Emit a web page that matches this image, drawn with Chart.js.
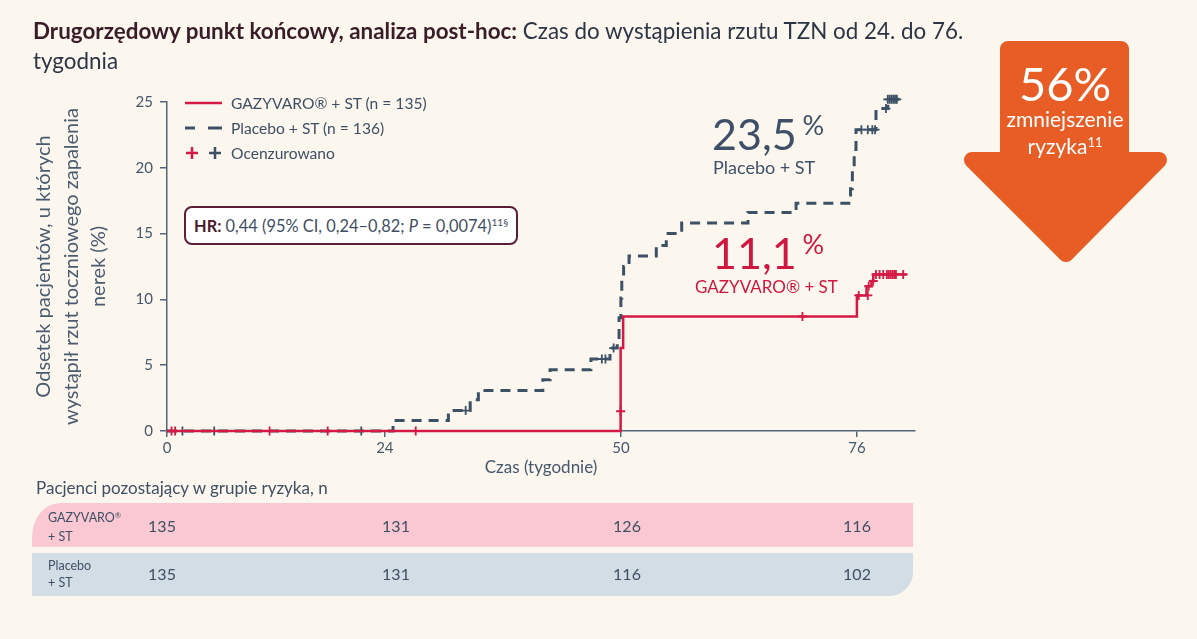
<!DOCTYPE html>
<html lang="pl">
<head>
<meta charset="utf-8">
<title>Czas do wystąpienia rzutu TZN</title>
<script src="https://cdn.jsdelivr.net/npm/chart.js@4.4.1/dist/chart.umd.min.js"></script>
<style>
  html, body { margin: 0; padding: 0; }
  body {
    width: 1197px; height: 639px; overflow: hidden; position: relative;
    background: #fbf7ef; font-family: Lato, "Open Sans", sans-serif; color: #3f4f63;
  }
  canvas { position: absolute; left: 0; top: 0; }
  .abs { position: absolute; white-space: nowrap; }
  sup { font-size: 62%; vertical-align: 0; position: relative; top: -0.55em; }
  #title { left: 33px; top: 16px; font-size: 22.4px; line-height: 30px; color: #2c3545; }
  #title b { color: #3a1c28; }
  .leg { left: 185px; height: 24px; line-height: 24px; font-size: 15.6px; color: #3f4f63; }
  .leg svg { position: absolute; left: 0; top: 0; }
  .leg span { position: absolute; left: 46px; top: 0; }
  #hr {
    left: 184px; top: 206px; height: 35px; line-height: 35px;
    border: 2px solid #5b1f38; border-radius: 8px; background: #fff;
    font-size: 16.4px; padding-left: 8px; box-sizing: content-box; width: 322px; color: #3f4f63;
  }
  #hr b { color: #4a1a2e; }
  .big { font-size: 43px; line-height: 46px; }
  .big sup { font-size: 27px; top: -0.55em; margin-left: 6px; }
  .sub { font-size: 18px; line-height: 22px; }
  .pla { color: #3e5068; }
  .gaz { color: #d0173f; }
  .arrowTxt { left: 964px; width: 202px; text-align: center; color: #fff; }
  .row { position: absolute; left: 32px; width: 881px; }
  #rowG { top: 503px; height: 44px; background: #f9c8d2; border-top-left-radius: 28px 34px; }
  #rowP { top: 553px; height: 43px; background: #d2dde6; border-bottom-right-radius: 24px; }
  .rlab { left: 48px; font-size: 12.5px; line-height: 17px; color: #3f4f63; }
  .num { font-size: 16px; line-height: 20px; width: 60px; text-align: center; color: #3f4f63; }
</style>
</head>
<body>
<canvas id="km" width="1197" height="639"></canvas>

<div id="title" class="abs"><b>Drugorzędowy punkt końcowy, analiza post-hoc:</b> Czas do wystąpienia rzutu TZN od 24. do 76.<br>tygodnia</div>

<div class="abs leg" style="top:91px">
  <svg width="40" height="24"><line x1="0" y1="12" x2="37" y2="12" stroke="#d41a44" stroke-width="2.5"/></svg>
  <span>GAZYVARO® + ST (n = 135)</span>
</div>
<div class="abs leg" style="top:116px">
  <svg width="40" height="24"><line x1="0" y1="12" x2="10" y2="12" stroke="#3c5166" stroke-width="3"/><line x1="23" y1="12" x2="37" y2="12" stroke="#3c5166" stroke-width="3"/></svg>
  <span>Placebo + ST (n = 136)</span>
</div>
<div class="abs leg" style="top:141px">
  <svg width="40" height="24"><path d="M1 12h12M7 6v12" stroke="#d41a44" stroke-width="2.5"/><path d="M24 12h12M30 6v12" stroke="#3c5166" stroke-width="2.5"/></svg>
  <span>Ocenzurowano</span>
</div>

<div id="hr" class="abs"><b>HR:</b> 0,44 (95% CI, 0,24–0,82; <i>P</i> = 0,0074)<sup>11§</sup></div>

<div class="abs big pla" style="left:712px;top:111px">23,5<sup>%</sup></div>
<div class="abs sub pla" style="left:713px;top:156px">Placebo + ST</div>
<div class="abs big gaz" style="left:712px;top:230px">11,1<sup>%</sup></div>
<div class="abs sub gaz" style="left:695px;top:276px;font-size:17px">GAZYVARO® + ST</div>

<svg class="abs" style="left:0;top:0" width="1197" height="639">
  <polygon points="1008,49 1121,49 1121,160 1159,160 1066,254 972,160 1008,160"
           fill="#e85c25" stroke="#e85c25" stroke-width="16" stroke-linejoin="round"/>
</svg>
<div class="abs arrowTxt" style="top:57px;font-size:47px;line-height:52px">56%</div>
<div class="abs arrowTxt" style="top:105px;font-size:21px;line-height:27px">zmniejszenie<br>ryzyka<sup>11</sup></div>

<div class="abs" style="left:36px;top:477px;font-size:17px;line-height:22px;color:#3f4f63">Pacjenci pozostający w grupie ryzyka, n</div>
<div id="rowG" class="row"></div>
<div id="rowP" class="row"></div>
<div class="abs rlab" style="top:509px">GAZYVARO<sup>®</sup><br>+ ST</div>
<div class="abs rlab" style="top:557px">Placebo<br>+ ST</div>
<div id="nums"></div>

<script>
// wartości (tygodnie, % pacjentów)
const xTicks = [0, 24, 50, 76];
const yTicks = [0, 5, 10, 15, 20, 25];

// GAZYVARO + ST: czas zdarzenia i skumulowany odsetek
const gazWeeks = [0, 49.97, 50.25, 76.0, 77.06, 77.6, 77.8, 81.5];
const gazPct = [0, 6.3, 8.7, 10.3, 11.0, 11.4, 11.9, 11.9];

// Placebo + ST
const plaWeeks = [0, 24.9, 31.0, 33.4, 34.3, 41.4, 42.2, 46.7, 48.8, 49.6, 49.8, 50.0, 50.1, 50.3, 50.9,
  53.9, 55.0, 56.7, 64.0, 69.3, 75.3, 75.5, 75.7, 75.9, 78.1, 79.4, 81.1];
const plaPct = [0, 0.79, 1.55, 2.37, 3.08, 3.9, 4.66, 5.47, 6.3, 7.1, 8.6, 10.1, 11.3, 12.5, 13.3,
  14.1, 15.0, 15.8, 16.6, 17.3, 18.4, 19.9, 21.4, 22.9, 24.5, 25.2, 25.2];

// obserwacje ocenzurowane
const gazCensWeeks = [0.5, 0.9, 11.3, 17.7, 27.4, 49.97, 70.0, 76.2, 77.2, 77.3, 77.8,
  78.1, 78.5, 78.9, 79.3, 79.5, 79.7, 79.9, 80.1, 80.3, 81.1];
const gazCensPct = [0, 0, 0, 0, 0, 1.5, 8.7, 10.3, 10.3, 11.0, 11.4,
  11.9, 11.9, 11.9, 11.9, 11.9, 11.9, 11.9, 11.9, 11.9, 11.9];
const plaCensWeeks = [1.7, 5.2, 21.4, 32.9, 47.9, 48.3, 49.2, 76.5, 77.2, 77.7, 78.0,
  79.2, 79.4, 79.6, 79.8, 80.0, 80.2, 80.4];
const plaCensPct = [0, 0, 0, 1.55, 5.47, 5.47, 6.3, 22.9, 22.9, 22.9, 22.9,
  24.5, 25.2, 25.2, 25.2, 25.2, 25.2, 25.2];

// liczba pacjentów w grupie ryzyka
const riskGaz = [135, 131, 126, 116];
const riskPla = [135, 131, 116, 102];

const red = '#d41a44';
const slate = '#3c5166';
const axisCol = '#52667b';
const textCol = '#46566b';

function pts(xs, ys) {
  return xs.map((x, i) => ({ x: x, y: ys[i] }));
}

const censorOpts = {
  showLine: false,
  pointStyle: 'cross',
  pointRadius: 4.5,
  pointBorderWidth: 1.8,
  clip: false
};

const ctx = document.getElementById('km').getContext('2d');
const chart = new Chart(ctx, {
  type: 'line',
  data: {
    datasets: [
      Object.assign({ data: pts(gazCensWeeks, gazCensPct), pointBorderColor: red }, censorOpts),
      {
        data: pts(gazWeeks, gazPct),
        stepped: true,
        borderColor: red,
        borderWidth: 2.5,
        pointRadius: 0,
        fill: false,
        clip: false
      },
      Object.assign({ data: pts(plaCensWeeks, plaCensPct), pointBorderColor: slate }, censorOpts),
      {
        data: pts(plaWeeks, plaPct),
        stepped: true,
        borderColor: slate,
        borderWidth: 3,
        borderDash: [10, 7],
        pointRadius: 0,
        fill: false,
        clip: false
      }
    ]
  },
  options: {
    responsive: false,
    animation: false,
    layout: { padding: { left: 0, right: 282, top: 102, bottom: 158 } },
    plugins: {
      legend: { display: false },
      tooltip: { enabled: false }
    },
    scales: {
      x: {
        type: 'linear',
        min: 0,
        max: 82.4,
        afterBuildTicks: (s) => { s.ticks = xTicks.map(v => ({ value: v })); },
        afterFit: (s) => { s.height = 50; },
        grid: { drawOnChartArea: false, tickLength: 6, color: axisCol, lineWidth: 1.5 },
        border: { color: axisCol, width: 1.5 },
        ticks: { color: textCol, font: { family: 'Lato', size: 15 }, padding: 2, maxRotation: 0 },
        title: {
          display: true,
          text: 'Czas (tygodnie)',
          color: textCol,
          font: { family: 'Lato', size: 17 },
          padding: { top: 0, bottom: 3 }
        }
      },
      y: {
        min: 0,
        max: 25,
        afterBuildTicks: (s) => { s.ticks = yTicks.map(v => ({ value: v })); },
        afterFit: (s) => { s.width = 167; },
        grid: { drawOnChartArea: false, tickLength: 7, color: axisCol, lineWidth: 1.5 },
        border: { color: axisCol, width: 1.5 },
        ticks: { color: textCol, font: { family: 'Lato', size: 15 }, padding: 7 },
        title: {
          display: true,
          text: ['Odsetek pacjentów, u których', 'wystąpił rzut toczniowego zapalenia', 'nerek (%)'],
          color: '#4a5b70',
          font: { family: 'Lato', size: 20, lineHeight: 1.38 },
          padding: { top: 30, bottom: 0 }
        }
      }
    }
  }
});

// liczby pod osią, w tabeli ryzyka
const numX = [162, 396, 627, 857];
const box = document.getElementById('nums');
riskGaz.forEach((n, i) => {
  box.insertAdjacentHTML('beforeend',
    '<div class="abs num" style="left:' + (numX[i] - 30) + 'px;top:516px">' + n + '</div>' +
    '<div class="abs num" style="left:' + (numX[i] - 30) + 'px;top:564px">' + riskPla[i] + '</div>');
});
</script>
</body>
</html>
